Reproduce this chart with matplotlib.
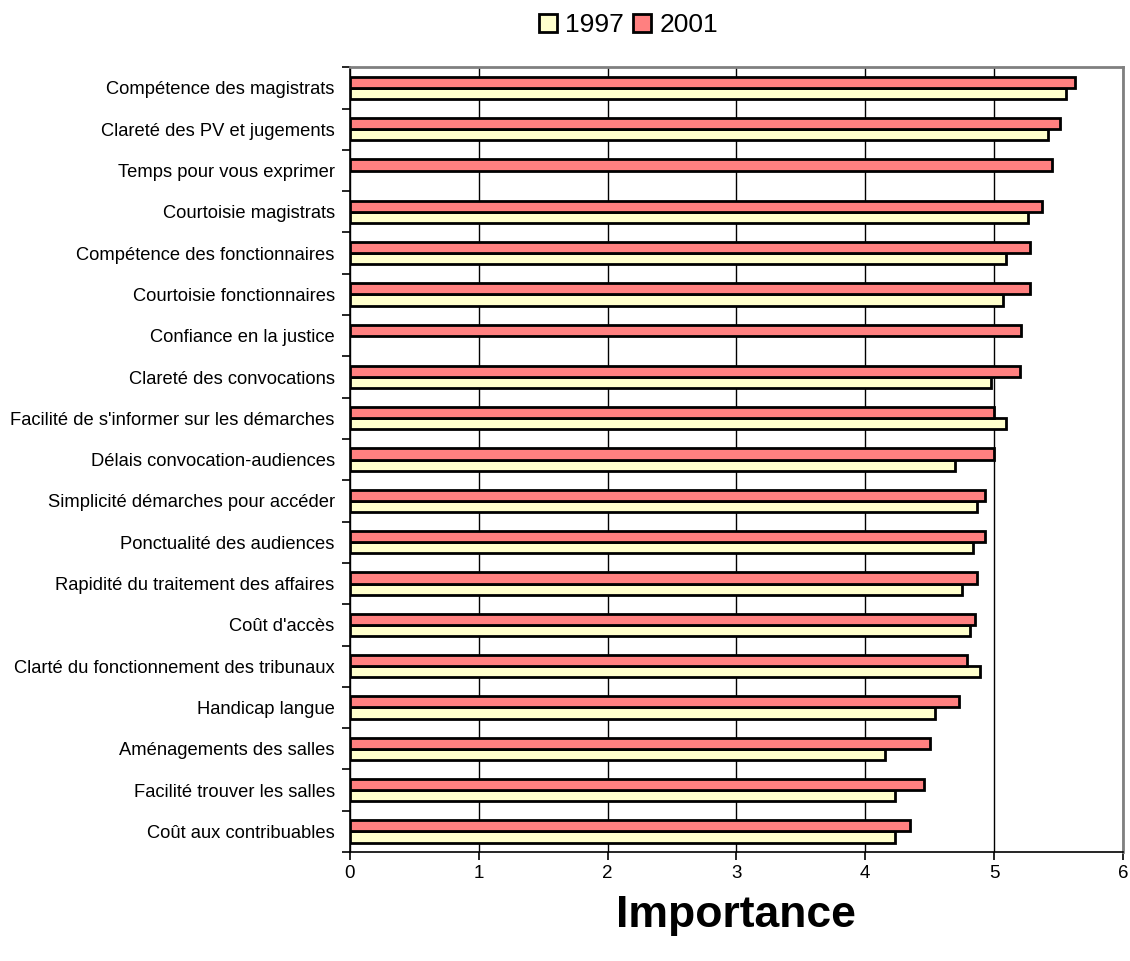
import numpy as np
import matplotlib.pyplot as plt
from matplotlib.ticker import FixedLocator

plt.rcParams['font.family'] = ['Liberation Sans', 'DejaVu Sans']

categories = [
    "Compétence des magistrats",
    "Clareté des PV et jugements",
    "Temps pour vous exprimer",
    "Courtoisie magistrats",
    "Compétence des fonctionnaires",
    "Courtoisie fonctionnaires",
    "Confiance en la justice",
    "Clareté des convocations",
    "Facilité de s'informer sur les démarches",
    "Délais convocation-audiences",
    "Simplicité démarches pour accéder",
    "Ponctualité des audiences",
    "Rapidité du traitement des affaires",
    "Coût d'accès",
    "Clarté du fonctionnement des tribunaux",
    "Handicap langue",
    "Aménagements des salles",
    "Facilité trouver les salles",
    "Coût aux contribuables",
]
v1997 = [5.56, 5.42, np.nan, 5.26, 5.09, 5.07, np.nan, 4.98, 5.09, 4.70,
         4.87, 4.84, 4.75, 4.81, 4.89, 4.54, 4.15, 4.23, 4.23]
v2001 = [5.63, 5.51, 5.45, 5.37, 5.28, 5.28, 5.21, 5.20, 5.00, 5.00,
         4.93, 4.93, 4.87, 4.85, 4.79, 4.73, 4.50, 4.46, 4.35]

fig = plt.figure(figsize=(11.3, 9.61), dpi=100)
ax = fig.add_axes([0.3097, 0.1134, 0.684, 0.8166])

pos = np.arange(len(categories))
h = 0.27
b97 = ax.barh(pos + h / 2, v1997, height=h, color='#FFFFCC', edgecolor='black',
              linewidth=2, label='1997', zorder=3)
b01 = ax.barh(pos - h / 2, v2001, height=h, color='#FF8080', edgecolor='black',
              linewidth=2, label='2001', zorder=3)

ax.set_xlim(0, 6)
ax.set_ylim(len(categories) - 0.5, -0.5)
ax.set_xticks(range(7))
ax.tick_params(axis='x', labelsize=13.5, direction='out', length=6, width=1.2)

# labels at bar centers, tick marks at category boundaries
ax.yaxis.set_major_locator(FixedLocator(np.arange(-0.5, len(categories), 1)))
ax.set_yticklabels([])
ax.yaxis.set_minor_locator(FixedLocator(pos))
ax.set_yticklabels(categories, minor=True)
ax.tick_params(axis='y', which='major', direction='out', length=6, width=1.2)
ax.tick_params(axis='y', which='minor', length=0, labelsize=13.2, pad=11)

ax.grid(axis='x', color='black', linewidth=1, zorder=0)
ax.spines['left'].set_linewidth(1.2)
ax.spines['bottom'].set_linewidth(1.2)
ax.spines['top'].set_color('#808080')
ax.spines['right'].set_color('#808080')
ax.spines['top'].set_linewidth(2)
ax.spines['right'].set_linewidth(2)

ax.set_xlabel('Importance', fontsize=32, fontweight='bold', labelpad=9)

fig.legend(handles=[b97, b01], loc='center', bbox_to_anchor=(0.556, 0.974),
           ncol=2, frameon=False, fontsize=19, handlelength=0.7, handleheight=0.7,
           columnspacing=0.35, handletextpad=0.3)

fig.savefig('out.png', dpi=100)
